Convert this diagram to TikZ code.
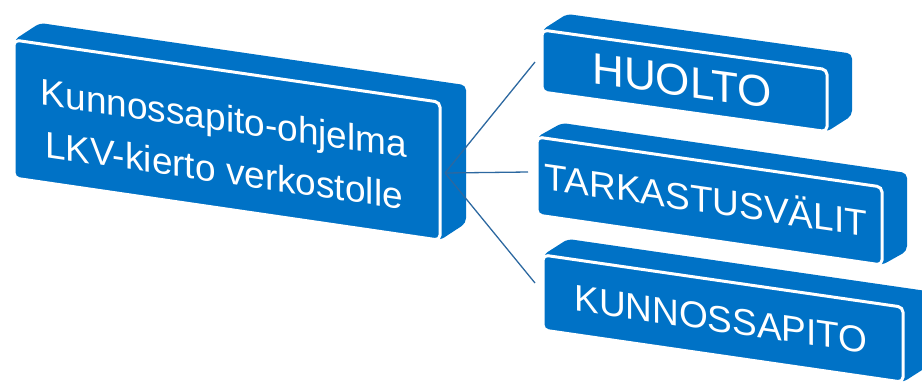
\documentclass[tikz,border=0pt]{standalone}
\usepackage{fontspec}
\setmainfont{Liberation Sans}
\definecolor{boxblue}{RGB}{0,114,198}
\definecolor{linkblue}{RGB}{44,104,160}
\tikzset{
  boxfill/.style={fill=boxblue, rounded corners=5pt},
  frontface/.style={fill=boxblue, draw=white, line width=3pt, rounded corners=5pt},
  link/.style={draw=linkblue, line width=1.3pt},
  lbl/.style={text=white, inner sep=0pt, transform shape},
}
% #1 x0, #2 y0 (top-left of front face, pixels, y down), #3 width, #4 height, #5 slope, #6 dx, #7 dy (depth)
\newcommand{\cuboid}[7]{%
  \pgfmathsetmacro\cuby{#2+#5*#3}%
  \path[boxfill] (#1,#2) -- ++(#6,#7) -- (#1+#3+#6,\cuby+#7) -- (#1+#3+#6,\cuby+#4+#7)
     -- (#1+#3,\cuby+#4) -- (#1,#2+#4) -- cycle;
  \path[frontface] (#1,#2) -- (#1+#3,\cuby) -- (#1+#3,\cuby+#4) -- (#1,#2+#4) -- cycle;
}
\begin{document}
\begin{tikzpicture}[x=1pt,y=-1pt]
\useasboundingbox (0,0) rectangle (922,381);
\clip (0,0) rectangle (922,381);

% boxes
\cuboid{14}{40}{426}{138}{0.146}{26}{-17}
\cuboid{542}{30}{285}{62}{0.139}{25}{-16}
\cuboid{537}{137}{345}{78}{0.145}{25}{-14}
\cuboid{543}{255}{360}{75}{0.145}{25}{-16}

% labels
\begin{scope}[shift={(224,144)}, yslant=-0.146]
  \node[lbl, align=center, font=\fontsize{37}{52}\selectfont] (main) at (0,0)
    {Kunnossapito-ohjelma\\LKV-kierto verkostolle};
\end{scope}
\begin{scope}[shift={(682,96)}, yslant=-0.139]
  \node[lbl, anchor=base, font=\fontsize{44}{50}\selectfont] (huolto) at (0,0) {HUOLTO};
\end{scope}
\begin{scope}[shift={(706,213)}, yslant=-0.145]
  \node[lbl, anchor=base, font=\fontsize{37}{44}\selectfont] (tark) at (0,0) {TARKASTUSVÄLIT};
\end{scope}
\begin{scope}[shift={(721,332)}, yslant=-0.145]
  \node[lbl, anchor=base, font=\fontsize{37}{44}\selectfont] (kunn) at (0,0) {KUNNOSSAPITO};
\end{scope}

% connectors
\coordinate (hub) at (445,173);
\coordinate (huoltoIn) at (535,62);
\coordinate (tarkIn) at (528,172);
\coordinate (kunnIn) at (535,283);
\draw[link] (hub) -- (huoltoIn);
\draw[link] (hub) -- (tarkIn);
\draw[link] (hub) -- (kunnIn);
\end{tikzpicture}
\end{document}
